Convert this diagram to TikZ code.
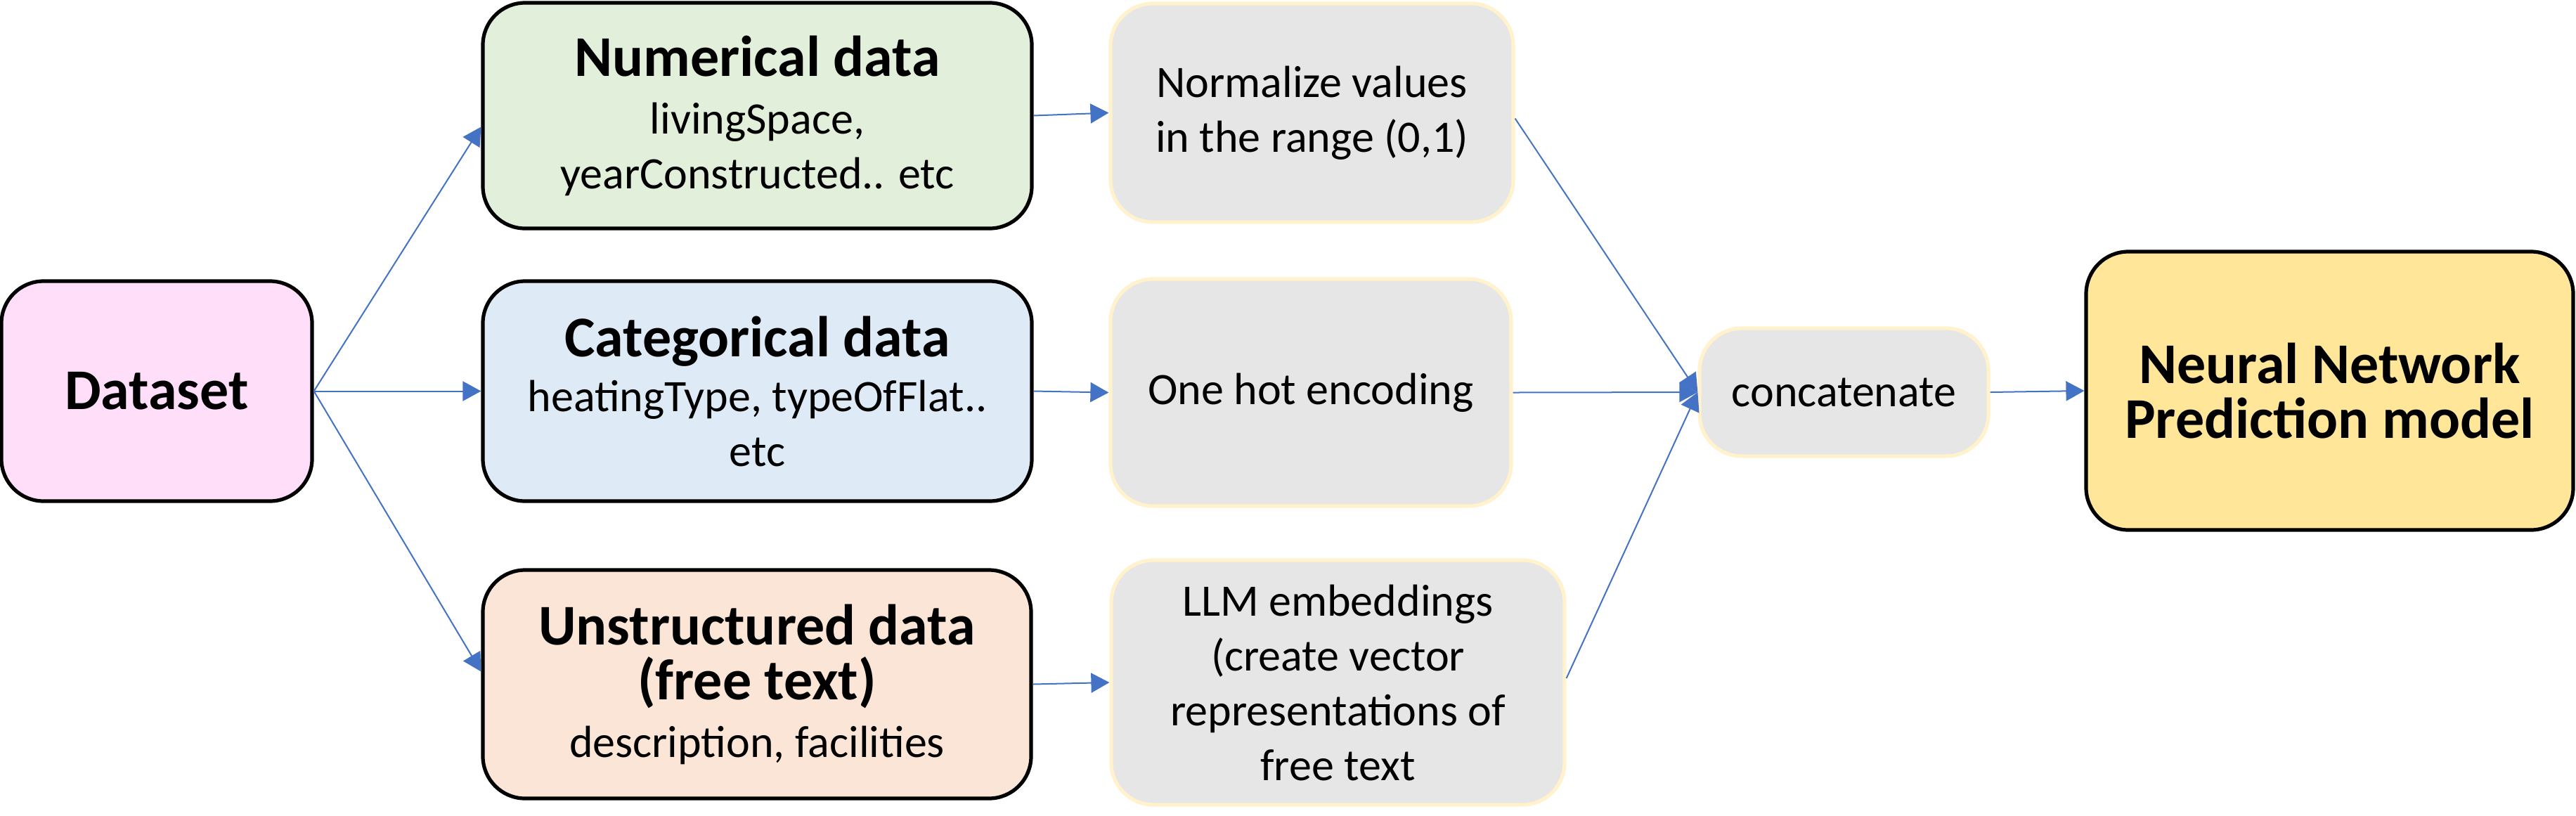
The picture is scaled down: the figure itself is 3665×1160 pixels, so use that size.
\documentclass[tikz,border=0pt]{standalone}
\usepackage{fontspec}
\setmainfont{Carlito}
\usetikzlibrary{arrows.meta,calc}
\definecolor{arrowblue}{HTML}{4472C4}
\definecolor{dsfill}{HTML}{FFDEF9}
\definecolor{numfill}{HTML}{E2EFDA}
\definecolor{catfill}{HTML}{DEEBF7}
\definecolor{unsfill}{HTML}{FBE5D6}
\definecolor{nnfill}{HTML}{FFE699}
\definecolor{grayfill}{HTML}{E6E6E6}
\definecolor{grayedge}{HTML}{FFF2CC}
\newcommand{\ttl}{\fontsize{20.5}{25}\selectfont\bfseries}
\tikzset{
  databox/.style={draw=black, line width=1.3pt, rounded corners=15pt, align=center,
    font=\fontsize{16}{19.5}\selectfont, inner sep=2pt},
  procbox/.style={draw=grayedge, fill=grayfill, line width=1.3pt, rounded corners=15pt,
    align=center, font=\fontsize{16}{19.5}\selectfont, inner sep=2pt},
  flow/.style={draw=arrowblue, line width=0.5pt, -{Triangle[length=6.5pt,width=7pt]}}
}
\begin{document}
\begin{tikzpicture}[x=0.25pt,y=-0.25pt]
\useasboundingbox (0,0) rectangle (3665,1160);
% left column
\node[databox, fill=dsfill, minimum width=110.5pt, minimum height=78.25pt] (ds) at (223,556.5)
  {\ttl Dataset};
\node[databox, fill=numfill, minimum width=195.25pt, minimum height=80.25pt] (num) at (1077.5,164.5)
  {{\ttl Numerical data}\\[1pt] livingSpace,\\ yearConstructed.. etc};
\node[databox, fill=catfill, minimum width=195.25pt, minimum height=78.25pt] (cat) at (1077.5,556.5)
  {{\ttl Categorical data}\\ heatingType, typeOfFlat..\\ etc};
\node[databox, fill=unsfill, minimum width=195pt, minimum height=81.25pt] (uns) at (1077,973.5)
  {{\ttl Unstructured data}\\ {\ttl (free text)}\\[1pt] description, facilities};
% processing column
\node[procbox, minimum width=143.25pt, minimum height=77.75pt] (norm) at (1866.5,160.5)
  {Normalize values\\ in the range (0,1)};
\node[procbox, minimum width=142.5pt, minimum height=80.75pt] (oh) at (1865,558.5)
  {One hot encoding};
\node[procbox, minimum width=161.25pt, minimum height=87pt] (llm) at (1903.5,971)
  {LLM embeddings\\ (create vector\\ representations of\\ free text};
\node[procbox, minimum width=102.75pt, minimum height=45.5pt] (cc) at (2623.5,558)
  {concatenate};
\node[databox, fill=nnfill, minimum width=173.25pt, minimum height=99pt] (nn) at (3314.5,556)
  {\ttl Neural Network\\ \ttl Prediction model};
% connectors
\draw[flow] (ds.east) -- ($(num.west)+(0,16)$);
\draw[flow] (ds.east) -- (cat.west);
\draw[flow] (ds.east) -- ($(uns.west)+(0,-18)$);
\draw[flow] (num.east) -- (norm.west);
\draw[flow] (cat.east) -- (oh.west);
\draw[flow] (uns.east) -- (llm.west);
\draw[flow] ($(norm.east)+(0,8)$) -- (cc.west);
\draw[flow] (oh.east) -- (cc.west);
\draw[flow] ($(llm.east)+(0,-6)$) -- (cc.west);
\draw[flow] (cc.east) -- (nn.west);
\end{tikzpicture}
\end{document}
